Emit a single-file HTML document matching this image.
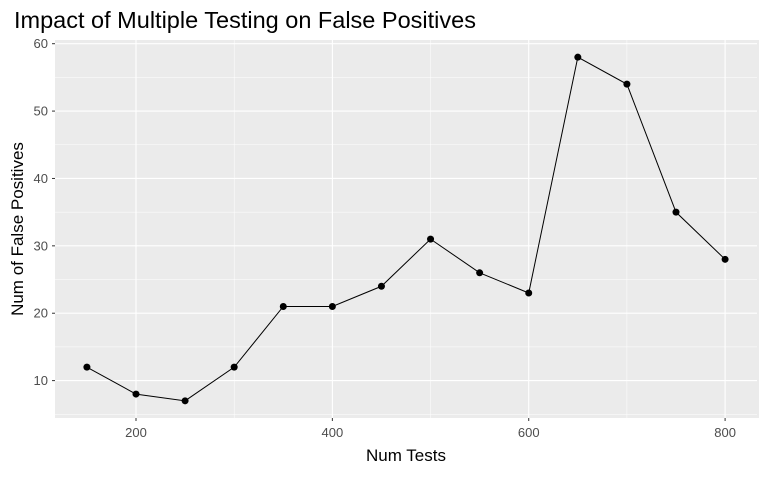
<!DOCTYPE html>
<html><head><meta charset="utf-8"><style>
body{margin:0;background:#fff;font-family:"Liberation Sans",sans-serif}
</style></head><body>
<svg id="chart" width="767" height="474" xmlns="http://www.w3.org/2000/svg">
<text x="14" y="28" font-size="23.5" fill="#000">Impact of Multiple Testing on False Positives</text>
<rect x="55" y="40" width="704" height="378" fill="#ebebeb"/>
<g id="grid"></g><g id="ticks"></g><g id="marks"></g>
<text x="406" y="461" font-size="17" text-anchor="middle">Num Tests</text>
<text transform="translate(23,229) rotate(-90)" font-size="17" text-anchor="middle">Num of False Positives</text>
</svg>
<script>
const numTests=[150,200,250,300,350,400,450,500,550,600,650,700,750,800];
const falsePositives=[12,8,7,12,21,21,24,31,26,23,58,54,35,28];
const xTicks=[200,400,600,800];
const yTicks=[10,20,30,40,50,60];
const NS="http://www.w3.org/2000/svg";
const L=55,R=757,T=40,B=418,xmin=117.5,xmax=832.5,ymin=4.45,ymax=60.55;
const sx=v=>L+(v-xmin)/(xmax-xmin)*(R-L);
const sy=v=>B-(v-ymin)/(ymax-ymin)*(B-T);
function mk(tag,attrs,parent){const e=document.createElementNS(NS,tag);for(const k in attrs)e.setAttribute(k,attrs[k]);document.getElementById(parent).appendChild(e);return e;}
const grid="grid";
for(let i=0;i<xTicks.length;i++){
  const x=sx(xTicks[i]);
  const g=mk("line",{x1:x,x2:x,y1:T,y2:B,stroke:"#fff","stroke-width":1.1},grid);
  
  
  const xm=sx(xTicks[i]-100);
  if(xm>L){const m=mk("line",{x1:xm,x2:xm,y1:T,y2:B,stroke:"#fff","stroke-width":0.5},grid);
  
  }
  const t=mk("text",{x:x,y:437,"font-size":13,fill:"#4d4d4d","text-anchor":"middle"},"ticks");
  t.textContent=xTicks[i];
  
  
  mk("line",{x1:x,x2:x,y1:B,y2:B+3,stroke:"#333"},"ticks");
}
{const xm=sx(900);if(xm<R){const m=mk("line",{x1:xm,x2:xm,y1:T,y2:B,stroke:"#fff","stroke-width":0.5},grid);}}
for(let i=0;i<yTicks.length;i++){
  const y=sy(yTicks[i]);
  const g=mk("line",{x1:L,x2:R,y1:y,y2:y,stroke:"#fff","stroke-width":1.1},grid);
  
  
  const ym=sy(yTicks[i]-5);
  if(ym<B){const m=mk("line",{x1:L,x2:R,y1:ym,y2:ym,stroke:"#fff","stroke-width":0.5},grid);
  
  }
  const t=mk("text",{x:48,y:y+4.5,"font-size":13,fill:"#4d4d4d","text-anchor":"end"},"ticks");
  t.textContent=yTicks[i];
  
  
  mk("line",{x1:L-3,x2:L,y1:y,y2:y,stroke:"#333"},"ticks");
}
const pts=numTests.map((v,i)=>sx(v)+","+sy(falsePositives[i])).join(" ");
const line=mk("polyline",{points:pts,fill:"none",stroke:"#000","stroke-width":1},"marks");


for(let i=0;i<numTests.length;i++){
  const c=mk("circle",{cx:sx(numTests[i]),cy:sy(falsePositives[i]),r:3.5,fill:"#000"},"marks");
  
  
}
</script>
</body></html>
